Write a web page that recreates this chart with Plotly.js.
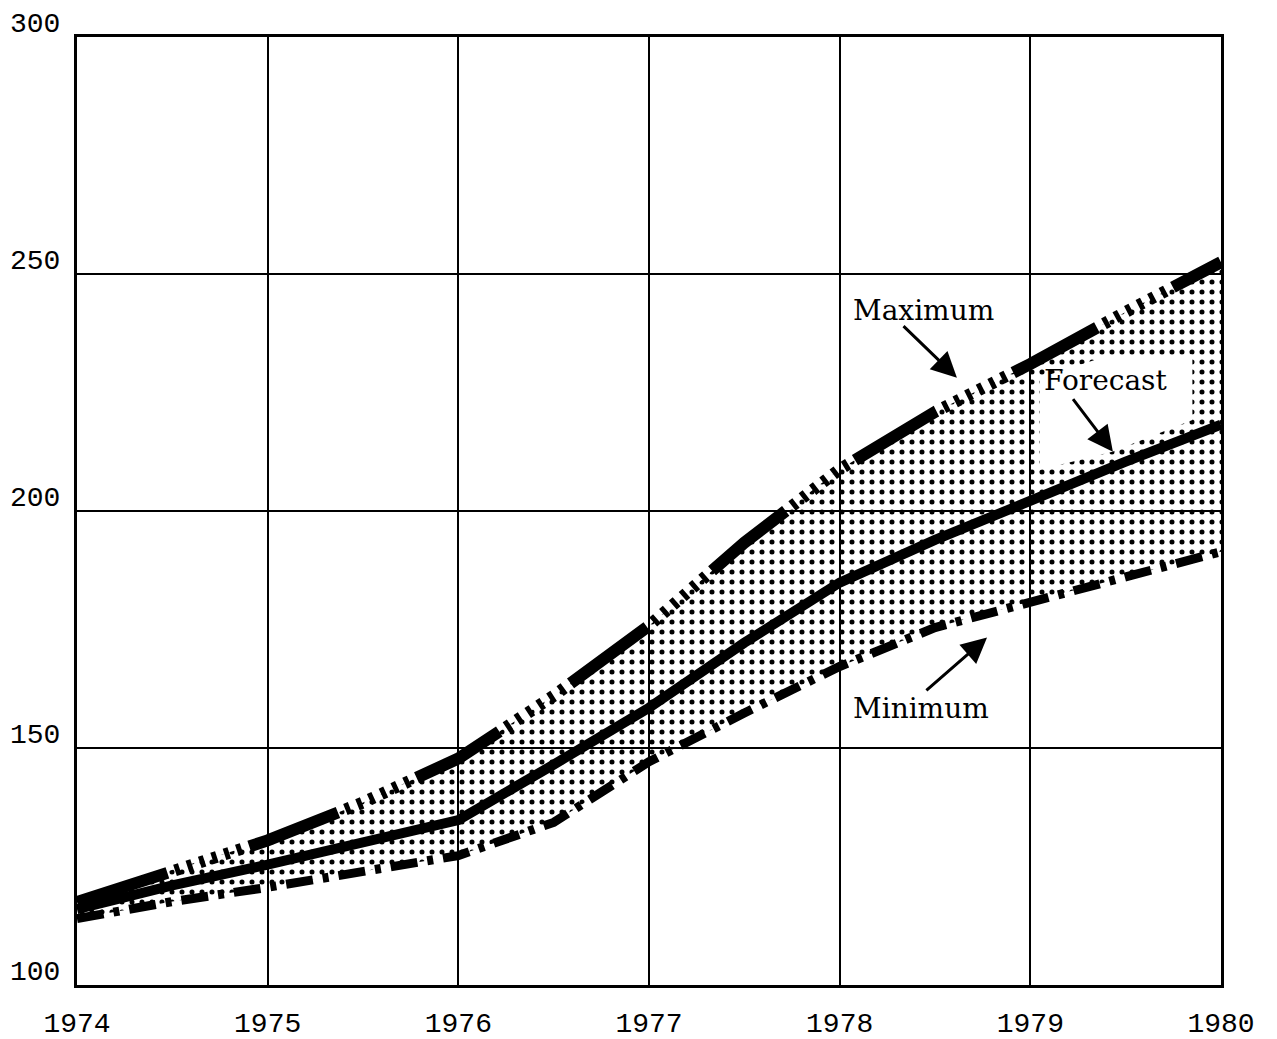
<!DOCTYPE html>
<html>
<head>
<meta charset="utf-8">
<script src="https://cdn.plot.ly/plotly-3.0.1.min.js"></script>
<style>html,body{margin:0;padding:0;background:#fff;}#chart{width:1277px;height:1039px;}</style>
</head>
<body>
<div id="chart"></div>
<script>
// Data
const years = [1974, 1974.5, 1975, 1975.5, 1976, 1976.5, 1977, 1977.5, 1978, 1978.5, 1979, 1979.5, 1980];
const maximum = [117.5, 124.3, 130.5, 138.5, 147.8, 161.0, 175.8, 193.3, 208.8, 220.9, 231.0, 242.0, 252.5];
const forecast = [116.0, 121.0, 125.4, 130.0, 134.8, 146.5, 158.5, 172.2, 184.9, 193.9, 202.4, 210.4, 218.2];
const minimum = [114.0, 117.6, 120.6, 124.0, 127.3, 134.3, 147.1, 157.4, 167.2, 175.4, 180.9, 186.1, 191.4];
const yTicks = [100, 150, 200, 250, 300];
const xTicks = [1974, 1975, 1976, 1977, 1978, 1979, 1980];
const labelMax = 'Maximum';
const labelForecast = 'Forecast';
const labelMin = 'Minimum';

const hatchDash = '95px,8px,5px,8px,5px,8px,5px,8px,5px,8px,5px,8px,5px,8px';
const dashDot = '27px,10px,6px,10px';

const traces = [
  {x: years, y: minimum, mode: 'lines', line: {width: 0, color: 'rgba(0,0,0,0)'}, hoverinfo: 'skip'},
  {x: years, y: maximum, mode: 'lines', line: {width: 0, color: 'rgba(0,0,0,0)'}, fill: 'tonexty',
   fillcolor: 'rgba(0,0,0,0)',
   fillpattern: {shape: '.', fgcolor: '#000', fgopacity: 1, bgcolor: 'rgba(0,0,0,0)', size: 10, solidity: 0.2, fillmode: 'overlay'},
   hoverinfo: 'skip'},
  {x: years, y: minimum, mode: 'lines', line: {color: '#000', width: 9, dash: dashDot}},
  {x: years, y: forecast, mode: 'lines', line: {color: '#000', width: 10}},
  {x: years, y: maximum, mode: 'lines', line: {color: '#000', width: 12, dash: hatchDash}}
];

const textFont = {family: 'DejaVu Serif', size: 28, color: '#000'};
function arrow(tx, ty, hx, hy) {
  return {x: hx, y: hy, ax: tx, ay: ty, xref: 'x', yref: 'y', axref: 'x', ayref: 'y',
          text: '', showarrow: true, arrowhead: 2, arrowsize: 1.7, arrowwidth: 3, arrowcolor: '#000', standoff: 0, startstandoff: 0};
}

const layout = {
  width: 1277, height: 1039,
  margin: {l: 77, r: 56, t: 37, b: 54},
  paper_bgcolor: '#fff', plot_bgcolor: '#fff',
  showlegend: false, hovermode: false,
  xaxis: {
    range: [1974, 1980], tickvals: xTicks, ticktext: xTicks.map(String),
    showgrid: true, gridcolor: '#000', gridwidth: 2,
    showline: true, linecolor: '#000', linewidth: 3, mirror: true,
    ticks: '', zeroline: false, ticklabelstandoff: 10,
    tickfont: {family: 'Liberation Mono', size: 28, color: '#000'}
  },
  yaxis: {
    range: [100, 300], tickvals: yTicks, ticktext: yTicks.map(String),
    showgrid: true, gridcolor: '#000', gridwidth: 2,
    showline: true, linecolor: '#000', linewidth: 3, mirror: true,
    ticks: '', zeroline: false, ticklabelshift: -15, ticklabelstandoff: 8,
    tickfont: {family: 'Liberation Mono', size: 28, color: '#000'}
  },
  shapes: [{
    type: 'path', xref: 'x', yref: 'y', layer: 'above',
    path: 'M1979.05,228.1 L1979.37,232.3 L1979.85,233.0 L1979.85,219.2 L1979.43,212.5 L1979.05,208.7 Z',
    fillcolor: '#fff', line: {width: 0}
  }],
  annotations: [
    {x: 1978.442, y: 242.4, xref: 'x', yref: 'y', text: labelMax, showarrow: false, font: textFont},
    {x: 1979.392, y: 227.5, xref: 'x', yref: 'y', text: labelForecast, showarrow: false, font: textFont},
    {x: 1978.427, y: 158.3, xref: 'x', yref: 'y', text: labelMin, showarrow: false, font: textFont},
    arrow(1978.327, 239.3, 1978.615, 228.1),
    arrow(1979.218, 223.9, 1979.433, 212.5),
    arrow(1978.447, 161.9, 1978.773, 173.3)
  ]
};

Plotly.newPlot('chart', traces, layout, {staticPlot: true, displayModeBar: false});
</script>
</body>
</html>
